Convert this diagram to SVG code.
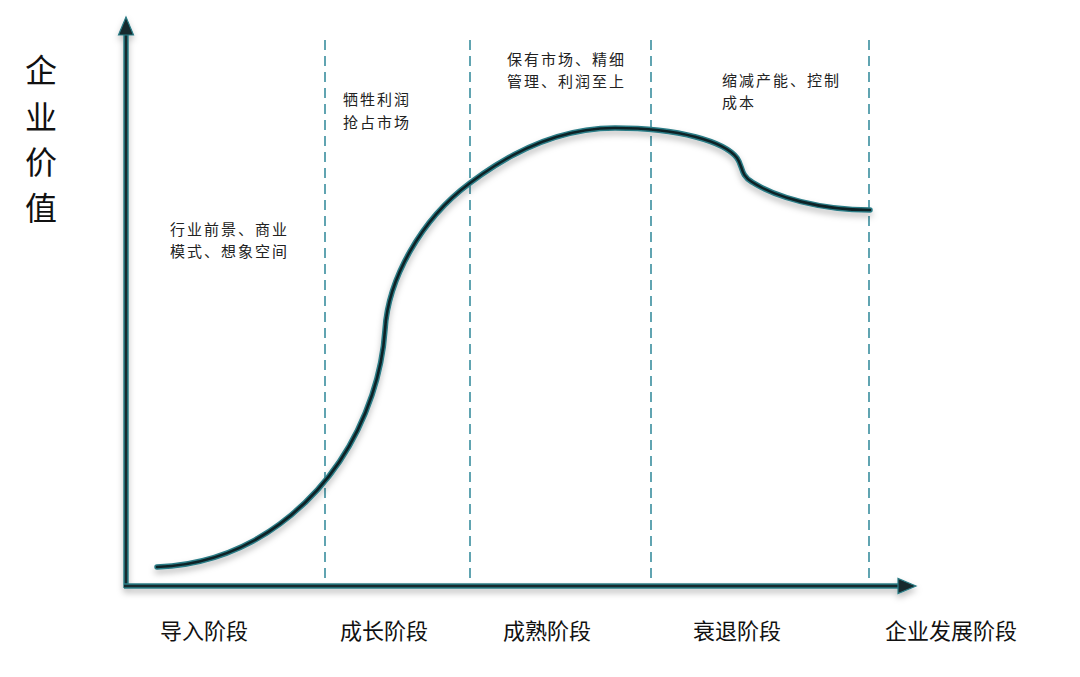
<svg xmlns="http://www.w3.org/2000/svg" width="1080" height="677" viewBox="0 0 1080 677">
<defs>
<style>
.ax-o{stroke:#2b7c86;stroke-width:5.5;fill:none}
.ax-i{stroke:#132a2e;stroke-width:2.5;fill:none}
.dash{stroke:#3a8e9e;stroke-width:1.6;stroke-dasharray:10 6;fill:none}
.cv-o{stroke:#2b7c86;stroke-width:5.5;fill:none;stroke-linecap:round}
.cv-i{stroke:#0f2226;stroke-width:2.6;fill:none;stroke-linecap:round}
.head{fill:#132a2e;stroke:#2b7c86;stroke-width:1.2}
.ylab{font-family:"Liberation Serif","Noto Sans CJK SC",serif;font-size:32px;fill:#111;text-anchor:middle;dominant-baseline:central}
.xlab{font-family:"Liberation Serif","Noto Sans CJK SC",serif;font-size:22px;fill:#111;dominant-baseline:central}
.note{font-family:"Noto Sans CJK SC",sans-serif;font-size:15px;letter-spacing:2px;fill:#222;dominant-baseline:central}
</style>
<filter id="sh" x="-10%" y="-10%" width="120%" height="130%">
<feDropShadow dx="0" dy="4" stdDeviation="3" flood-color="#000" flood-opacity="0.25"/>
</filter>
</defs>
<rect width="1080" height="677" fill="#fff"/>
<g id="connectors">
<g id="dashes">
<line class="dash" x1="325" y1="40" x2="325" y2="584"/>
<line class="dash" x1="470" y1="40" x2="470" y2="584"/>
<line class="dash" x1="651" y1="40" x2="651" y2="584"/>
<line class="dash" x1="869" y1="40" x2="869" y2="584"/>
</g>
<g id="axes" filter="url(#sh)">
<line class="ax-o" x1="126" y1="588" x2="126" y2="32"/>
<line class="ax-i" x1="126" y1="588" x2="126" y2="32"/>
<polygon class="head" points="126,17 118.5,35 133.5,35"/>
<line class="ax-o" x1="124" y1="586" x2="900" y2="586"/>
<line class="ax-i" x1="124" y1="586" x2="900" y2="586"/>
<polygon class="head" points="916,586 898,578.5 898,593.5"/>
</g>
<g id="curve" filter="url(#sh)">
<path class="cv-o" d="M157,567 C260,563 340,490 372,395 C382,365 384,345 385,330 C388,280 420,220 470,183 C520,145 570,128 615,128 C680,128 725,142 737,158 C743,166 740,175 752,182 C775,197 820,210 870,210"/>
<path class="cv-i" d="M157,567 C260,563 340,490 372,395 C382,365 384,345 385,330 C388,280 420,220 470,183 C520,145 570,128 615,128 C680,128 725,142 737,158 C743,166 740,175 752,182 C775,197 820,210 870,210"/>
</g>
</g>
<g id="y-label">
<text class="ylab" x="41" y="71">企</text>
<text class="ylab" x="41" y="118">业</text>
<text class="ylab" x="41" y="163">价</text>
<text class="ylab" x="41" y="209">值</text>
</g>
<g id="stage-intro">
<text class="xlab" x="160" y="631">导入阶段</text>
<text class="note" x="170" y="228">行业前景、商业</text>
<text class="note" x="170" y="250">模式、想象空间</text>
</g>
<g id="stage-growth">
<text class="xlab" x="340" y="631">成长阶段</text>
<text class="note" x="343" y="98">牺牲利润</text>
<text class="note" x="343" y="121">抢占市场</text>
</g>
<g id="stage-mature">
<text class="xlab" x="503" y="631">成熟阶段</text>
<text class="note" x="507" y="58">保有市场、精细</text>
<text class="note" x="507" y="80">管理、利润至上</text>
</g>
<g id="stage-decline">
<text class="xlab" x="693" y="631">衰退阶段</text>
<text class="note" x="722" y="79">缩减产能、控制</text>
<text class="note" x="722" y="101">成本</text>
</g>
<g id="x-label">
<text class="xlab" x="885" y="631">企业发展阶段</text>
</g>
</svg>
